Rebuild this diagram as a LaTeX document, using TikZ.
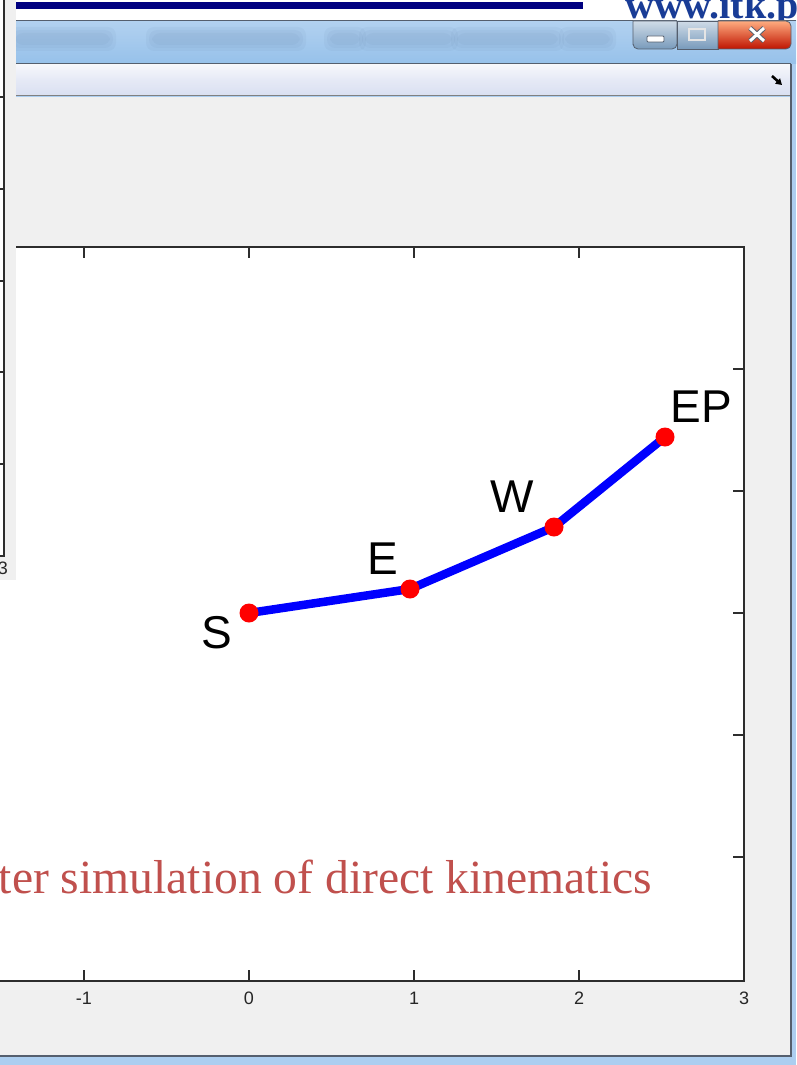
\documentclass[tikz,border=0pt]{standalone}
\usepackage{fontspec}
\setmainfont{Liberation Serif}
\newfontfamily\labelfont{Liberation Sans}
\usepackage{tikz}
\usetikzlibrary{positioning, arrows.meta}

\definecolor{navybar}{RGB}{0,0,128}
\definecolor{itkblue}{RGB}{25,60,150}
\definecolor{wingray}{RGB}{240,240,240}
\definecolor{titletop}{RGB}{178,209,240}
\definecolor{titlebot}{RGB}{150,193,234}
\definecolor{titledark}{RGB}{95,125,165}
\definecolor{barwhite}{RGB}{246,247,251}
\definecolor{barlav}{RGB}{218,224,242}
\definecolor{axisgray}{RGB}{45,45,45}
\definecolor{slidered}{RGB}{192,80,77}
\definecolor{frameblue}{RGB}{172,206,240}
\definecolor{edgegray}{RGB}{85,95,110}

\begin{document}
\begin{tikzpicture}[x=1pt, y=-1pt,
  joint/.style={circle, fill=red, inner sep=0pt, minimum size=19pt},
  arm/.style={blue, line width=8.5pt},
  jointlabel/.style={font=\labelfont\fontsize{46}{50}\selectfont, inner sep=0pt},
  ticklabel/.style={font=\labelfont\fontsize{18}{20}\selectfont, text=black!85, inner sep=0pt},
  axisline/.style={axisgray, line width=1.3pt},
  blurpatch/.style={fill=titledark, fill opacity=0.07, rounded corners=8pt},
  winbutton/.style={draw=edgegray, line width=0.8pt, top color=#1!35!white, bottom color=#1}]
  \useasboundingbox (0,0) rectangle (796,1065);
  \clip (0,0) rectangle (796,1065);

  % page strip above the window
  \fill[white] (0,0) rectangle (796,20);
  \fill[navybar] (16,2) rectangle (583,9);
  \node[anchor=base west, inner sep=0pt, text=itkblue, font=\bfseries\fontsize{40}{44}\selectfont] (site) at (625,19) {www.itk.p};

  % figure window
  \fill[frameblue] (-10,20) rectangle (796,1065);
  \shade[top color=titletop, bottom color=titlebot] (-10,21) rectangle (796,64);
  \draw[edgegray, line width=1.5pt] (-10,20.5) -- (796,20.5);
  % blurred title text
  \foreach \xa/\xb in {15/110, 152/300, 330/360, 365/452, 457/558, 565/610}
    \foreach \d in {0, 3, 6}
      \fill[blurpatch] (\xa-\d,33-\d) rectangle (\xb+\d,45+\d);
  \draw[edgegray, line width=1.5pt] (-10,64) -- (791,64);
  \shade[top color=barwhite, bottom color=barlav, middle color=barlav!60!barwhite] (-10,65) rectangle (791,95);
  \draw[gray, line width=1.5pt] (-10,95.5) -- (791,95.5);
  \draw[-{Triangle[length=6pt, width=7pt]}, line width=2.6pt] (772,76) -- (782,85);
  \fill[wingray] (-10,96.5) rectangle (791,1055);
  \draw[edgegray, line width=1.2pt] (791,64) -- (791,1056) -- (-10,1056);

  % window buttons
  \path[winbutton=titlebot!80!black] (633,21) -- (633,45) [rounded corners=5pt] -- (633,49) -- (677,49) [sharp corners] -- (677,21) -- cycle;
  \path[winbutton=titlebot!80!black] (677,21) rectangle (718,49);
  \path[draw=edgegray, line width=0.8pt, top color=red!30!orange!50!white, bottom color=red!70!black!85!orange] (718,21) -- (718,49) [rounded corners=5pt] -- (791,49) -- (791,21) [sharp corners] -- cycle;
  \draw[fill=white, draw=edgegray, line width=0.8pt, rounded corners=1pt] (647,36) rectangle (664,42);
  \draw[white!80!gray, line width=1.2pt] (689,29) rectangle (705,40);
  \draw[edgegray, line width=5pt] (750,28) -- (764,41) (764,28) -- (750,41);
  \draw[white, line width=3pt] (750,28) -- (764,41) (764,28) -- (750,41);

  % axes
  \fill[white] (-10,247) rectangle (744,981);
  \draw[axisline] (-10,247) -- (744,247) -- (744,981) -- (-10,981);
  \foreach \xt/\lab in {84/-1, 249/0, 414/1, 579/2, 744/3} {
    \draw[axisline] (\xt,247) -- (\xt,258);
    \draw[axisline] (\xt,981) -- (\xt,970);
    \node[ticklabel] at (\xt,998) {\lab};
  }
  \foreach \yt in {369, 491, 613, 735, 857}
    \draw[axisline] (744,\yt) -- (733,\yt);

  \node[anchor=base east, inner sep=0pt, text=slidered, font=\fontsize{47.6}{50}\selectfont] (caption) at (652,893) {ter simulation of direct kinematics};

  % arm
  \coordinate (S) at (249,613);
  \coordinate (E) at (410,589);
  \coordinate (W) at (554,527);
  \coordinate (EP) at (665,437);
  \draw[arm] (S) -- (E) -- (W) -- (EP);
  \foreach \j in {S, E, W, EP}
    \node[joint] (dot\j) at (\j) {};
  \node[jointlabel] (labS) at (217,633) {S};
  \node[jointlabel] (labE) at (383,559) {E};
  \node[jointlabel] (labW) at (512,497) {W};
  \node[jointlabel] (labEP) at (701,407) {EP};

  % second figure at the left edge
  \fill[wingray] (-10,-10) rectangle (16,580);
  \fill[white] (-10,-10) rectangle (4,556);
  \draw[axisline] (4,-10) -- (4,556) -- (-10,556);
  \foreach \yt in {97, 189, 281, 372, 464}
    \draw[axisline] (4,\yt) -- (0,\yt);
  \node[ticklabel] at (3,568) {3};
\end{tikzpicture}
\end{document}
